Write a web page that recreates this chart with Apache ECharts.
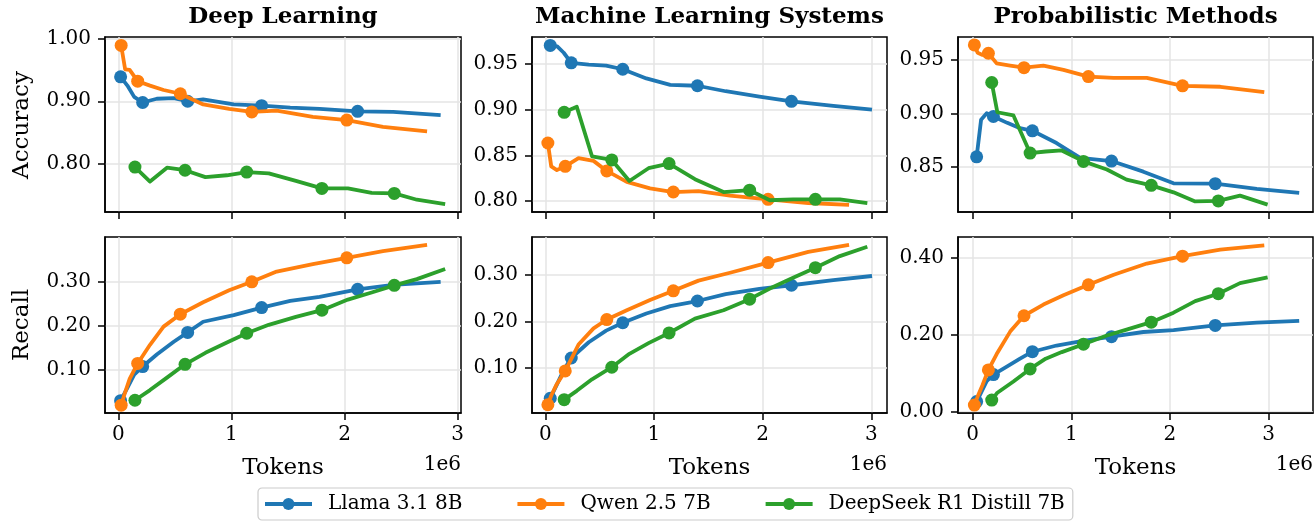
<!DOCTYPE html>
<html><head><meta charset="utf-8">
<script src="https://cdn.jsdelivr.net/npm/echarts@6.0.0/dist/echarts.min.js"></script>
<style>html,body{margin:0;padding:0;background:#fff}#c{width:1316px;height:522px}</style>
</head><body><div id="c"></div>
<script>
// ---- data (tokens in units of 1e6) ----
const models = ['Llama 3.1 8B', 'Qwen 2.5 7B', 'DeepSeek R1 Distill 7B'];
const domains = ['Deep Learning', 'Machine Learning Systems', 'Probabilistic Methods'];
const xTicks = [0, 1, 2, 3];

const dlLlamaX   = [0.02,0.08,0.14,0.215,0.34,0.49,0.613,0.75,1.02,1.267,1.52,1.78,2.116,2.43,2.85];
const dlLlamaAcc = [0.939,0.925,0.907,0.898,0.904,0.905,0.900,0.903,0.895,0.893,0.890,0.888,0.884,0.883,0.878];
const dlLlamaRec = [0.031,0.060,0.090,0.108,0.135,0.164,0.185,0.209,0.224,0.241,0.256,0.265,0.282,0.292,0.299];
const dlQwenX    = [0.025,0.06,0.10,0.171,0.28,0.40,0.548,0.75,0.98,1.18,1.40,1.72,2.02,2.34,2.73];
const dlQwenAcc  = [0.989,0.951,0.950,0.932,0.925,0.918,0.912,0.895,0.888,0.883,0.885,0.875,0.870,0.859,0.852];
const dlQwenRec  = [0.021,0.050,0.080,0.115,0.157,0.198,0.226,0.253,0.280,0.299,0.322,0.339,0.353,0.368,0.382];
const dlDeepX    = [0.147,0.28,0.43,0.59,0.77,0.96,1.135,1.33,1.57,1.80,2.03,2.24,2.44,2.64,2.89];
const dlDeepAcc  = [0.795,0.772,0.794,0.790,0.779,0.782,0.787,0.785,0.773,0.761,0.761,0.754,0.753,0.743,0.736];
const dlDeepRec  = [0.032,0.055,0.083,0.113,0.139,0.162,0.183,0.202,0.220,0.235,0.259,0.275,0.291,0.305,0.328];

const mlsLlamaX   = [0.046,0.11,0.17,0.239,0.40,0.56,0.713,0.93,1.15,1.40,1.66,1.97,2.265,2.65,3.006];
const mlsLlamaAcc = [0.970,0.969,0.962,0.951,0.949,0.948,0.944,0.934,0.927,0.926,0.920,0.914,0.909,0.904,0.900];
const mlsLlamaRec = [0.034,0.065,0.095,0.121,0.155,0.180,0.197,0.217,0.233,0.244,0.259,0.270,0.278,0.289,0.298];
const mlsQwenX    = [0.024,0.055,0.107,0.184,0.306,0.444,0.566,0.75,0.964,1.178,1.41,1.70,2.05,2.42,2.795];
const mlsQwenAcc  = [0.8635,0.838,0.834,0.838,0.847,0.844,0.833,0.821,0.814,0.810,0.811,0.806,0.802,0.798,0.796];
const mlsQwenRec  = [0.020,0.040,0.065,0.093,0.150,0.185,0.204,0.224,0.246,0.266,0.288,0.305,0.327,0.350,0.365];
const mlsDeepX    = [0.174,0.29,0.43,0.612,0.774,0.95,1.139,1.377,1.64,1.88,2.066,2.28,2.485,2.71,2.963];
const mlsDeepAcc  = [0.897,0.903,0.849,0.845,0.822,0.836,0.841,0.824,0.810,0.812,0.801,0.802,0.802,0.802,0.798];
const mlsDeepRec  = [0.031,0.050,0.075,0.101,0.130,0.153,0.175,0.206,0.224,0.248,0.271,0.294,0.316,0.341,0.361];

const pmLlamaX   = [0.04,0.085,0.142,0.21,0.35,0.48,0.605,0.85,1.09,1.407,1.73,2.036,2.459,2.88,3.31];
const pmLlamaAcc = [0.859,0.894,0.900,0.897,0.891,0.886,0.8835,0.872,0.858,0.855,0.845,0.834,0.8337,0.8287,0.825];
const pmLlamaRec = [0.027,0.050,0.080,0.097,0.118,0.138,0.156,0.172,0.183,0.195,0.207,0.212,0.224,0.2315,0.236];
const pmQwenX    = [0.017,0.05,0.10,0.159,0.243,0.38,0.52,0.717,0.92,1.173,1.43,1.765,2.127,2.51,2.956];
const pmQwenAcc  = [0.9644,0.957,0.955,0.9566,0.947,0.945,0.943,0.945,0.941,0.9346,0.9334,0.9334,0.9259,0.925,0.920];
const pmQwenRec  = [0.018,0.040,0.070,0.109,0.150,0.208,0.249,0.278,0.302,0.329,0.355,0.384,0.403,0.420,0.431];
const pmDeepX    = [0.193,0.25,0.413,0.582,0.74,0.903,1.123,1.36,1.56,1.81,2.036,2.256,2.49,2.71,2.99];
const pmDeepAcc  = [0.929,0.901,0.898,0.8625,0.864,0.865,0.8547,0.847,0.8375,0.8321,0.8255,0.817,0.8174,0.8224,0.814];
const pmDeepRec  = [0.031,0.050,0.079,0.1115,0.138,0.155,0.1754,0.198,0.213,0.2324,0.257,0.287,0.306,0.3335,0.348];

const accTicksDL  = [0.80, 0.90, 1.00];
const accTicksMLS = [0.80, 0.85, 0.90, 0.95];
const accTicksPM  = [0.85, 0.90, 0.95];
const recTicksDL  = [0.10, 0.20, 0.30];
const recTicksMLS = [0.10, 0.20, 0.30];
const recTicksPM  = [0.00, 0.20, 0.40];

// ---- layout / style ----
const colors = ['#1f77b4', '#ff7f0e', '#2ca02c'];
const FONT = 'DejaVu Serif';
const colLeft = [105, 532, 958], colWidth = [356, 355, 355];
const rowTop = [37, 237], rowHeight = [175, 176];
const xRange = [[-0.118, 3.03], [-0.122, 3.144], [-0.149, 3.45]];

const panels = [
  {row:0, col:0, xs:[dlLlamaX, dlQwenX, dlDeepX],   ys:[dlLlamaAcc, dlQwenAcc, dlDeepAcc],   ticks:accTicksDL,  yr:[0.7234, 1.0025]},
  {row:0, col:1, xs:[mlsLlamaX, mlsQwenX, mlsDeepX], ys:[mlsLlamaAcc, mlsQwenAcc, mlsDeepAcc], ticks:accTicksMLS, yr:[0.7882, 0.9792]},
  {row:0, col:2, xs:[pmLlamaX, pmQwenX, pmDeepX],   ys:[pmLlamaAcc, pmQwenAcc, pmDeepAcc],   ticks:accTicksPM,  yr:[0.8070, 0.9719]},
  {row:1, col:0, xs:[dlLlamaX, dlQwenX, dlDeepX],   ys:[dlLlamaRec, dlQwenRec, dlDeepRec],   ticks:recTicksDL,  yr:[0.0033, 0.4000]},
  {row:1, col:1, xs:[mlsLlamaX, mlsQwenX, mlsDeepX], ys:[mlsLlamaRec, mlsQwenRec, mlsDeepRec], ticks:recTicksMLS, yr:[0.0022, 0.3822]},
  {row:1, col:2, xs:[pmLlamaX, pmQwenX, pmDeepX],   ys:[pmLlamaRec, pmQwenRec, pmDeepRec],   ticks:recTicksPM,  yr:[-0.0025, 0.4527]}
];

const grid = [], xAxis = [], yAxis = [], series = [];
const axisLineStyle = {color:'#000', width:1.5};
panels.forEach((p, i) => {
  grid.push({left: colLeft[p.col], width: colWidth[p.col], top: rowTop[p.row], height: rowHeight[p.row],
    show: true, borderColor: '#000', borderWidth: 1.5, backgroundColor: 'transparent', containLabel: false});
  xAxis.push({gridIndex: i, type: 'value', min: xRange[p.col][0], max: xRange[p.col][1],
    axisLine: {show: true, onZero: false, lineStyle: axisLineStyle},
    axisTick: {show: true, length: 7, lineStyle: axisLineStyle, customValues: xTicks},
    axisLabel: {show: p.row === 1, customValues: xTicks, formatter: v => String(Math.round(v)),
      fontFamily: FONT, fontSize: 20, color: '#000', margin: 12},
    splitLine: {show: true, lineStyle: {color: '#e4e4e4', width: 1.5}}
  });
  yAxis.push({gridIndex: i, type: 'value', min: p.yr[0], max: p.yr[1],
    axisLine: {show: true, onZero: false, lineStyle: axisLineStyle},
    axisTick: {show: true, length: 7, lineStyle: axisLineStyle, customValues: p.ticks},
    axisLabel: {show: true, customValues: p.ticks, formatter: v => v.toFixed(2),
      fontFamily: FONT, fontSize: 20, color: '#000', margin: 14},
    splitLine: {show: true, lineStyle: {color: '#e4e4e4', width: 1.5}}
  });
  for (let m = 0; m < 3; m++) {
    const xs = p.xs[m], ys = p.ys[m];
    series.push({
      type: 'line', name: models[m], xAxisIndex: i, yAxisIndex: i,
      data: xs.map((x, k) => ({value: [x, ys[k]], symbolSize: k % 3 === 0 ? 13 : 0})),
      symbol: 'circle', showAllSymbol: true, smooth: false,
      lineStyle: {width: 3.8, color: colors[m], cap: 'butt', join: 'round'}, itemStyle: {color: colors[m]},
      z: 3 + m, silent: true, emphasis: {disabled: true}, animation: false
    });
  }
});

const graphic = [];
domains.forEach((d, c) => {
  const cx = colLeft[c] + colWidth[c] / 2;
  graphic.push({type: 'text', x: cx, y: 17, style: {text: d, font: 'bold 23px "DejaVu Serif"', fill: '#000', textAlign: 'center', textVerticalAlign: 'middle'}});
  graphic.push({type: 'text', x: cx, y: 468, style: {text: 'Tokens', font: '23px "DejaVu Serif"', fill: '#000', textAlign: 'center', textVerticalAlign: 'middle'}});
  graphic.push({type: 'text', x: colLeft[c] + colWidth[c], y: 465, style: {text: '1e6', font: '20px "DejaVu Serif"', fill: '#000', textAlign: 'right', textVerticalAlign: 'middle'}});
});
graphic.push({type: 'text', x: 22, y: 125, rotation: Math.PI / 2, style: {text: 'Accuracy', font: '23px "DejaVu Serif"', fill: '#000', textAlign: 'center', textVerticalAlign: 'middle'}});
graphic.push({type: 'text', x: 22, y: 325, rotation: Math.PI / 2, style: {text: 'Recall', font: '23px "DejaVu Serif"', fill: '#000', textAlign: 'center', textVerticalAlign: 'middle'}});

const chart = echarts.init(document.getElementById('c'), null, {renderer: 'canvas'});
chart.setOption({
  animation: false,
  backgroundColor: '#fff',
  grid, xAxis, yAxis, series, graphic,
  legend: {
    data: models, left: 258, top: 488, orient: 'horizontal',
    itemWidth: 47, itemHeight: 15, itemGap: 53,
    padding: [6, 8, 6, 5],
    borderColor: '#cccccc', borderWidth: 1.2, borderRadius: 4, backgroundColor: '#fff',
    lineStyle: {width: 4},
    textStyle: {fontFamily: FONT, fontSize: 20, color: '#000', padding: [0, 0, 0, 11]},
    selectedMode: false
  }
});
</script></body></html>
